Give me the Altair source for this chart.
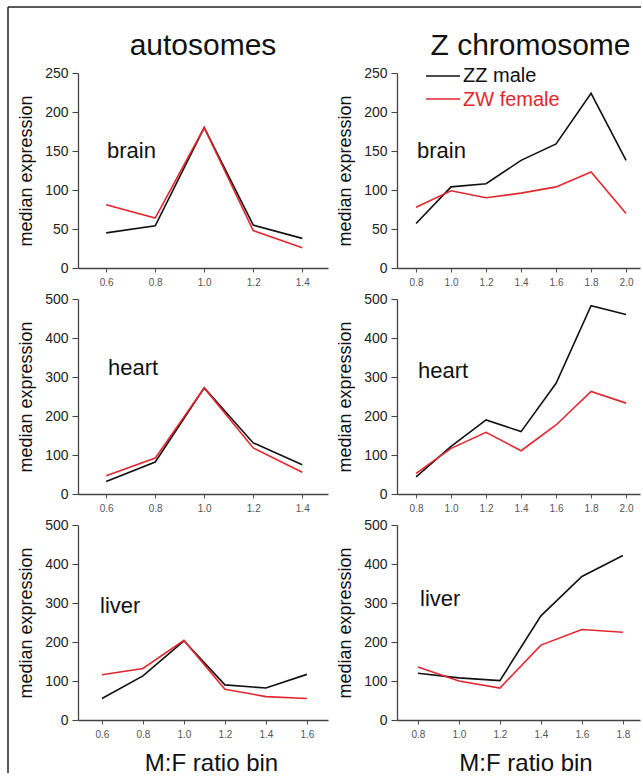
import altair as alt
import pandas as pd

FONT = "Liberation Sans"
SERIES = ["ZZ male", "ZW female"]
COLORS = ["#111111", "#e3262e"]
TISSUES = ["brain", "heart", "liver"]
COLUMN_TITLES = ["autosomes", "Z chromosome"]
X_TITLE = "M:F ratio bin"
Y_TITLE = "median expression"

# ---- autosomes ----
auto_brain_bins = [0.6, 0.8, 1.0, 1.2, 1.4]
auto_brain_male = [45, 54, 180, 55, 38]
auto_brain_female = [81, 64, 180, 48, 26]

auto_heart_bins = [0.6, 0.8, 1.0, 1.2, 1.4]
auto_heart_male = [32, 82, 272, 131, 75]
auto_heart_female = [47, 92, 272, 118, 56]

auto_liver_bins = [0.6, 0.8, 1.0, 1.2, 1.4, 1.6]
auto_liver_male = [55, 113, 203, 90, 82, 117]
auto_liver_female = [116, 132, 204, 79, 60, 55]

# ---- Z chromosome ----
z_brain_bins = [0.8, 1.0, 1.2, 1.4, 1.6, 1.8, 2.0]
z_brain_male = [57, 104, 108, 138, 159, 224, 138]
z_brain_female = [78, 99, 90, 96, 104, 123, 70]

z_heart_bins = [0.8, 1.0, 1.2, 1.4, 1.6, 1.8, 2.0]
z_heart_male = [44, 122, 190, 160, 284, 483, 460]
z_heart_female = [53, 117, 158, 111, 177, 263, 233]

z_liver_bins = [0.8, 1.0, 1.2, 1.4, 1.6, 1.8]
z_liver_male = [120, 108, 101, 267, 368, 422]
z_liver_female = [136, 100, 82, 192, 232, 225]

LEFT_W, RIGHT_W, PANEL_H = 250, 243, 195

color_scale = alt.Scale(domain=SERIES, range=COLORS)


def panel(bins, male, female, xdom, ymax, ystep, tissue, lx, ly, width,
          bottom=False, title=None, title_dx=0, x_title_shift=8, extra=()):
    df = pd.DataFrame({
        "bin": bins + bins,
        "expr": male + female,
        "series": [SERIES[0]] * len(bins) + [SERIES[1]] * len(bins),
    })
    xkw = dict(values=bins, format=".1f", grid=False, tickSize=4,
               labelFontSize=10, labelColor="#555", labelPadding=5,
               domainColor="#444", tickColor="#555", domainWidth=1.3,
               tickWidth=1.1, labelFont=FONT)
    if bottom:
        xaxis = alt.Axis(title=X_TITLE, titleFontSize=24, titleFontWeight="normal",
                         titleColor="#111", titlePadding=12, titleFont=FONT,
                         titleX=width / 2 + x_title_shift, **xkw)
    else:
        xaxis = alt.Axis(title=None, **xkw)
    yaxis = alt.Axis(values=list(range(0, ymax + 1, ystep)), title=Y_TITLE,
                     grid=False, tickSize=6, labelFontSize=14, labelColor="#222",
                     labelPadding=4, domainColor="#444", tickColor="#444",
                     domainWidth=1.3, tickWidth=1.1, titleFontSize=18,
                     titleFontWeight="normal", titleColor="#111", titlePadding=9,
                     labelFont=FONT, titleFont=FONT)
    lines = alt.Chart(df).mark_line(strokeWidth=1.6).encode(
        x=alt.X("bin:Q", scale=alt.Scale(domain=xdom, nice=False, zero=False), axis=xaxis),
        y=alt.Y("expr:Q", scale=alt.Scale(domain=[0, ymax], nice=False), axis=yaxis),
        color=alt.Color("series:N", scale=color_scale, legend=None),
    )
    lab = alt.Chart(pd.DataFrame({"tissue": [tissue]})).mark_text(
        align="left", baseline="alphabetic", fontSize=22, font=FONT, color="#111"
    ).encode(x=alt.value(lx), y=alt.value(ly), text="tissue:N")
    ch = alt.layer(lines, lab, *extra).properties(width=width, height=PANEL_H)
    if title is not None:
        ch = ch.properties(title=alt.TitleParams(title, fontSize=30, font=FONT,
                                                 fontWeight="normal", color="#111",
                                                 offset=5, anchor="middle", dx=title_dx,
                                                 frame="group"))
    return ch


# frame around the figure (decoration), drawn from the middle-left panel
one = pd.DataFrame({"k": [0]})
frame_top = alt.Chart(one).mark_rule(color="#222", strokeWidth=1.5).encode(
    x=alt.value(-70), x2=alt.value(563), y=alt.value(-292))
frame_left = alt.Chart(one).mark_rule(color="#222", strokeWidth=1.5).encode(
    x=alt.value(-70), y=alt.value(-292), y2=alt.value(474))

# manual legend in the Z-brain panel
leg = []
for s, ry, ty in [(SERIES[0], 3, 9), (SERIES[1], 26, 33)]:
    d = pd.DataFrame({"series": [s]})
    leg.append(alt.Chart(d).mark_rule(strokeWidth=1.6).encode(
        x=alt.value(29), x2=alt.value(63), y=alt.value(ry),
        color=alt.Color("series:N", scale=color_scale, legend=None)))
    leg.append(alt.Chart(d).mark_text(align="left", baseline="alphabetic",
                                      fontSize=20, font=FONT).encode(
        x=alt.value(66), y=alt.value(ty), text="series:N",
        color=alt.Color("series:N", scale=color_scale, legend=None)))

p_ab = panel(auto_brain_bins, auto_brain_male, auto_brain_female, [0.485, 1.505],
             250, 50, TISSUES[0], 29, 85, LEFT_W, title=COLUMN_TITLES[0])
p_zb = panel(z_brain_bins, z_brain_male, z_brain_female, [0.691, 0.691 + RIGHT_W / 175],
             250, 50, TISSUES[0], 20, 85, RIGHT_W, title=COLUMN_TITLES[1], title_dx=12,
             extra=tuple(leg))
p_ah = panel(auto_heart_bins, auto_heart_male, auto_heart_female, [0.485, 1.505],
             500, 100, TISSUES[1], 30, 76, LEFT_W, extra=(frame_top, frame_left))
p_zh = panel(z_heart_bins, z_heart_male, z_heart_female, [0.691, 0.691 + RIGHT_W / 175],
             500, 100, TISSUES[1], 21, 79, RIGHT_W)
p_al = panel(auto_liver_bins, auto_liver_male, auto_liver_female, [0.483, 1.703],
             500, 100, TISSUES[2], 22, 88, LEFT_W, bottom=True)
p_zl = panel(z_liver_bins, z_liver_male, z_liver_female, [0.698, 0.698 + RIGHT_W / 205],
             500, 100, TISSUES[2], 23, 81, RIGHT_W, bottom=True, x_title_shift=7)

chart = alt.concat(p_ab, p_zb, p_ah, p_zh, p_al, p_zl, columns=2,
                   spacing={"row": 31, "column": 69}, bounds="flush").properties(
    padding={"left": 7, "top": 6, "right": 0, "bottom": 0}
).configure(font=FONT).configure_view(strokeWidth=0)

chart.save("out.html", embed_options={"renderer": "svg", "actions": False})
